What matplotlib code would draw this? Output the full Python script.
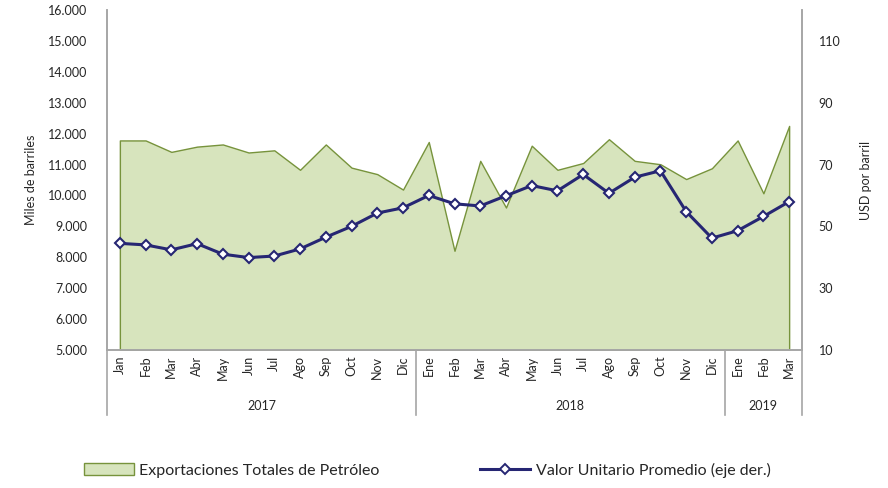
import matplotlib
matplotlib.use('Agg')
import matplotlib.pyplot as plt
from matplotlib.patches import Patch
from matplotlib.lines import Line2D
from matplotlib.ticker import FuncFormatter

plt.rcParams['font.family'] = ['Lato', 'DejaVu Sans']

# Data
months = ['Jan', 'Feb', 'Mar', 'Abr', 'May', 'Jun', 'Jul', 'Ago', 'Sep', 'Oct', 'Nov', 'Dic',
          'Ene', 'Feb', 'Mar', 'Abr', 'May', 'Jun', 'Jul', 'Ago', 'Sep', 'Oct', 'Nov', 'Dic',
          'Ene', 'Feb', 'Mar']
years = ['2017', '2018', '2019']
year_sizes = [12, 12, 3]

exports = [11780, 11780, 11410, 11580, 11650, 11390, 11460, 10830, 11650, 10900, 10690, 10190,
           11730, 8210, 11120, 9610, 11610, 10830, 11050, 11820, 11120, 11010, 10530, 10880,
           11780, 10070, 12250]
price = [44.5, 44.0, 42.4, 44.4, 41.0, 39.9, 40.4, 42.7, 46.5, 50.0, 54.3, 56.0,
         60.0, 57.3, 56.6, 59.9, 63.2, 61.5, 66.8, 60.7, 65.9, 68.0, 54.8, 46.2,
         48.6, 53.2, 58.0]

x = list(range(len(months)))
text_color = '#262626'
spine_color = '#a6a6a6'

fig = plt.figure(figsize=(8.88, 4.88), dpi=100)
ax = fig.add_axes([107 / 888, 1 - 350 / 488, 695 / 888, 340 / 488])

# area series (left axis)
ax.fill_between(x, 5000, exports, facecolor='#d7e4bd', edgecolor='#77933c', linewidth=1.0, zorder=1)
ax.set_xlim(-0.5, len(months) - 0.5)
ax.set_ylim(5000, 16000)
ax.set_yticks(range(5000, 16001, 1000))
ax.yaxis.set_major_formatter(FuncFormatter(lambda v, p: f'{int(v):,}'.replace(',', '.')))
ax.set_ylabel('Miles de barriles', fontsize=9, color=text_color, labelpad=8)

ax.set_xticks(x)
ax.set_xticklabels(months, rotation=90, fontsize=9, color=text_color)
ax.tick_params(axis='x', length=0, pad=4)
ax.tick_params(axis='y', length=0, pad=14, labelsize=9, labelcolor=text_color)

ax.spines['top'].set_visible(False)
for s in ['left', 'right', 'bottom']:
    ax.spines[s].set_color(spine_color)
    ax.spines[s].set_linewidth(1.2)

# line series (right axis)
ax2 = ax.twinx()
ax2.plot(x, price, color='#262673', linewidth=2.2, marker='D', markersize=5,
         markerfacecolor='white', markeredgecolor='#262673', markeredgewidth=1.5, zorder=3)
ax2.set_ylim(10, 120)
ax2.set_yticks(range(10, 111, 20))
ax2.tick_params(axis='y', length=0, pad=12, labelsize=9, labelcolor=text_color)
ax2.set_ylabel('USD por barril', fontsize=9, color=text_color, labelpad=14)
ax2.spines['top'].set_visible(False)
for s in ['left', 'right', 'bottom']:
    ax2.spines[s].set_color(spine_color)
    ax2.spines[s].set_linewidth(1.2)

# year group separators and labels
start = 0
bounds = [-0.5]
for yr, n in zip(years, year_sizes):
    center = start + (n - 1) / 2
    ax.text(center, -0.165, yr, transform=ax.get_xaxis_transform(), ha='center', va='center',
            fontsize=9, color=text_color)
    start += n
    bounds.append(start - 0.5)
for b in bounds:
    ax.plot([b, b], [0, -0.19], transform=ax.get_xaxis_transform(), color=spine_color,
            linewidth=1.2, clip_on=False)

# legend
handles = [Patch(facecolor='#d7e4bd', edgecolor='#77933c', linewidth=1.0),
           Line2D([0], [0], color='#262673', linewidth=2.2, marker='D', markersize=5,
                  markerfacecolor='white', markeredgecolor='#262673', markeredgewidth=1.4)]
labels = ['Exportaciones Totales de Petróleo', 'Valor Unitario Promedio (eje der.)']
fig.legend(handles, labels, loc='center left', bbox_to_anchor=(84 / 888, 1 - 470 / 488), ncol=2,
           frameon=False, fontsize=11.5, columnspacing=6.3, handlelength=3.1, handletextpad=0.37,
           borderpad=0, borderaxespad=0, labelcolor=text_color)

fig.savefig('out.png', dpi=100)
